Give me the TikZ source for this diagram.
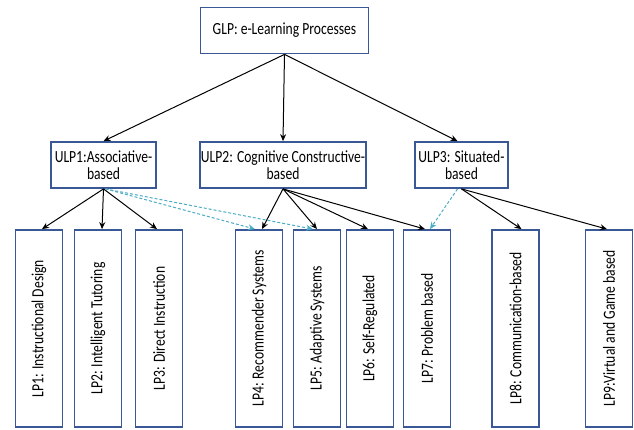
\documentclass[tikz,border=0pt]{standalone}
\usepackage{fontspec}
\setmainfont[FakeStretch=0.8]{Carlito}
\usetikzlibrary{arrows.meta}
\definecolor{boxblue}{HTML}{3A5896}
\definecolor{dashcyan}{HTML}{4BACC6}
\begin{document}
\begin{tikzpicture}[x=1pt,y=-1pt,
  box/.style={draw=boxblue,line width=1.8pt,fill=white,rectangle,inner sep=0pt,font=\fontsize{17}{17}\selectfont,align=center},
  lpbox/.style={box,minimum width=47pt,minimum height=197pt},
  lptext/.style={rotate=90,font=\fontsize{17}{17}\selectfont,inner sep=0pt},
  arr/.style={draw=black,line width=1pt,-{Stealth[length=7pt,width=6pt]}},
  cyanarr/.style={draw=dashcyan,line width=1pt,dash pattern=on 3pt off 2pt,-{Stealth[length=7pt,width=6pt]}}]
\useasboundingbox (0,0) rectangle (634,429);
\node[box,minimum width=168pt,minimum height=46pt] (GLP) at (284.5,30.5) {GLP: e-Learning Processes};
\node[box,minimum width=105pt,minimum height=46pt] (ULP1) at (103.5,165) {ULP1:Associative-\\based};
\node[box,minimum width=166pt,minimum height=46pt] (ULP2) at (283,165) {ULP2: Cognitive Constructive-\\based};
\node[box,minimum width=93pt,minimum height=46pt] (ULP3) at (461.5,165) {ULP3: Situated-\\based};
\node[lpbox] (LP1) at (39,328.5) {};
\node[lpbox] (LP2) at (98,328.5) {};
\node[lpbox] (LP3) at (159,328.5) {};
\node[lpbox] (LP4) at (259,328.5) {};
\node[lpbox] (LP5) at (317,328.5) {};
\node[lpbox] (LP6) at (370,328.5) {};
\node[lpbox] (LP7) at (427,328.5) {};
\node[lpbox] (LP8) at (515.5,328.5) {};
\node[lpbox] (LP9) at (609,328.5) {};
\node[lptext] (T1) at (LP1) {LP1: Instructional Design};
\node[lptext] (T2) at (LP2) {LP2: Intelligent Tutoring};
\node[lptext] (T3) at (LP3) {LP3: Direct Instruction};
\node[lptext] (T4) at (LP4) {LP4: Recommender Systems};
\node[lptext] (T5) at (LP5) {LP5: Adaptive Systems};
\node[lptext] (T6) at (LP6) {LP6: Self-Regulated};
\node[lptext] (T7) at (LP7) {LP7: Problem based};
\node[lptext] (T8) at (LP8) {LP8: Communication-based};
\node[lptext] (T9) at (LP9) {LP9:Virtual and Game based};
\draw[arr] (GLP.south) -- (ULP1.north);
\draw[arr] (GLP.south) -- (ULP2.north);
\draw[arr] (GLP.south) -- ([xshift=-4pt]ULP3.north);
\draw[arr] (ULP1.south) -- ([xshift=3pt]LP1.north);
\draw[arr] (ULP1.south) -- ([xshift=4pt]LP2.north);
\draw[arr] (ULP1.south) -- ([xshift=-2pt]LP3.north);
\draw[arr] (ULP2.south) -- ([xshift=3pt]LP4.north);
\draw[arr] (ULP2.south) -- (LP5.north);
\draw[arr] (ULP2.south) -- ([xshift=-2pt]LP6.north);
\draw[arr] (ULP2.south) -- ([xshift=-2pt]LP7.north);
\draw[arr] (ULP3.south) -- ([xshift=6pt]LP8.north);
\draw[arr] (ULP3.south) -- ([xshift=-2pt]LP9.north);
\draw[cyanarr] ([xshift=2pt]ULP1.south) -- ([xshift=-4pt]LP4.north);
\draw[cyanarr] ([xshift=2pt]ULP1.south) -- ([xshift=-4pt]LP5.north);
\draw[cyanarr] ([xshift=-4pt]ULP3.south) -- ([xshift=3pt]LP7.north);
\end{tikzpicture}
\end{document}
